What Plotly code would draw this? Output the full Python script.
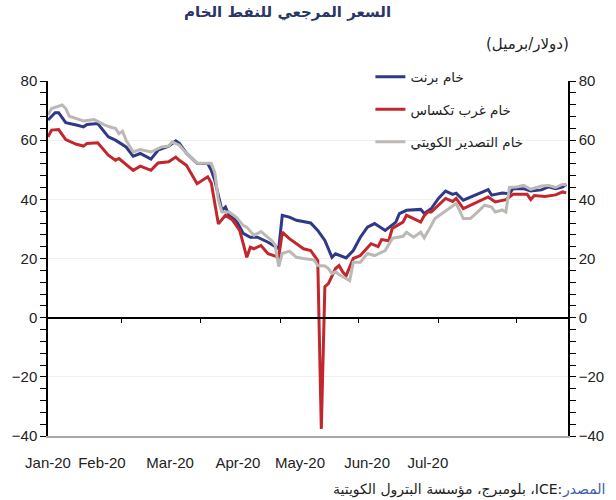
import plotly.graph_objects as go

# ---- data (trading-day index, USD/barrel) ----
brent_x = [0, 2, 3, 5, 8, 10, 11, 14, 17, 19, 22, 24, 26, 29, 31, 34, 36, 37, 39, 42, 45, 46, 47, 49, 50, 51,
           53, 55, 57, 59, 62, 65, 66, 68, 70, 74, 76, 78, 80, 81, 84, 86, 88, 90, 92, 94, 95, 98, 99, 101,
           105, 106, 108, 110, 112, 114, 115, 117, 119, 121, 124, 125, 128, 130, 131, 134, 136, 139, 141, 143, 145, 146]
brent_y = [66.8, 69.3, 69.3, 65.9, 65.1, 64.5, 65.3, 65.6, 61.1, 60.0, 57.7, 54.6, 55.5, 53.6, 56.6, 58.0, 59.8, 58.9,
           55.6, 52.2, 52.1, 49.8, 46.4, 36.3, 37.4, 34.6, 32.9, 28.5, 27.2, 27.2, 25.5, 23.3, 34.6, 34.0, 32.9, 32.0,
           29.5, 26.1, 20.4, 21.6, 20.2, 22.7, 27.2, 30.6, 31.8, 30.2, 29.5, 32.3, 35.2, 36.3, 36.6, 35.2, 36.9, 40.3,
           42.8, 41.7, 42.1, 39.7, 40.8, 41.9, 43.3, 41.4, 42.1, 41.9, 43.6, 43.6, 42.8, 43.2, 44.2, 43.6, 44.2, 45.1]

wti_x = [0, 1, 3, 5, 8, 10, 11, 14, 17, 19, 20, 24, 26, 29, 31, 34, 36, 37, 39, 42, 45, 46, 48, 50, 52, 54, 55,
         56, 57, 58, 60, 62, 65, 66, 68, 70, 72, 74, 76, 77, 78, 79, 81, 82, 83, 84, 86, 88, 90, 91, 93, 94, 96, 97,
         100, 101, 103, 105, 106, 107, 108, 110, 112, 114, 115, 117, 119, 121, 124, 126, 129, 131, 135, 136, 137,
         140, 143, 145, 146]
wti_y = [61.1, 63.4, 63.6, 60.2, 58.6, 58.0, 58.9, 59.1, 54.9, 53.2, 53.8, 49.8, 51.2, 49.8, 52.3, 52.7, 54.3, 53.2,
         51.5, 45.3, 47.6, 45.5, 31.7, 34.6, 33.0, 29.5, 25.0, 20.4, 23.8, 23.3, 24.4, 21.6, 20.4, 28.9, 26.7, 25.0,
         23.3, 22.7, 19.3, -37.6, 10.5, 11.5, 16.6, 17.6, 15.5, 14.2, 20.0, 21.0, 23.8, 25.0, 24.0, 26.4, 26.0, 30.2,
         32.3, 34.6, 33.5, 32.3, 34.5, 35.7, 35.7, 38.0, 40.3, 39.3, 40.3, 36.9, 38.0, 39.1, 40.8, 39.1, 39.9, 41.7,
         41.7, 39.9, 41.3, 41.0, 41.5, 42.5, 42.2]

kuwait_x = [0, 1, 4, 5, 6, 8, 10, 13, 16, 18, 19, 20, 21, 22, 24, 26, 29, 32, 34, 35, 37, 39, 42, 46, 47, 48, 49,
            51, 53, 55, 56, 58, 60, 63, 64, 65, 66, 68, 70, 72, 75, 76, 78, 79, 80, 81, 82, 85, 86, 88, 90, 92, 95,
            97, 100, 101, 103, 105, 106, 108, 109, 111, 113, 115, 117, 119, 121, 123, 125, 126, 128, 129, 130, 132,
            134, 136, 139, 141, 143, 145, 146]
kuwait_y = [68.5, 70.7, 71.9, 70.7, 68.1, 67.3, 66.5, 67.0, 65.1, 64.3, 64.0, 62.2, 63.0, 60.0, 56.0, 56.8, 56.0,
            57.7, 58.0, 59.4, 58.3, 55.6, 52.2, 52.2, 49.0, 39.7, 35.7, 35.7, 34.0, 31.2, 30.6, 27.8, 29.1, 26.1,
            24.5, 17.3, 21.7, 22.5, 20.4, 20.0, 19.5, 17.6, 17.5, 16.6, 14.9, 15.5, 14.6, 12.5, 18.7, 18.7, 21.7,
            21.0, 22.7, 26.8, 27.5, 28.9, 27.2, 28.9, 27.0, 31.2, 33.5, 35.2, 36.9, 38.6, 33.5, 33.5, 35.7, 38.0,
            37.4, 35.7, 36.4, 35.7, 44.0, 44.2, 44.7, 43.4, 44.5, 44.7, 44.0, 45.1, 44.8]

series_names = ["خام برنت", "خام غرب تكساس", "خام التصدير الكويتي"]
series_colors = ["#2e3a87", "#c1272d", "#bcb8b4"]

x_tick_vals = [0, 15.2, 34.4, 53.5, 71, 89.9, 107]
x_tick_text = ["Jan-20", "Feb-20", "Mar-20", "Apr-20", "May-20", "Jun-20", "Jul-20"]
zero_tick_vals = [20.8, 43.1, 65.4, 87.6, 109.9, 132.1]
x_range = [0, 146.5]
y_range = [-40, 80]

title_text = "السعر المرجعي للنفط الخام"
unit_text = "(دولار/برميل)"
source_label = "المصدر"
source_rest = ":ICE، بلومبرج، مؤسسة البترول الكويتية"

RLE, PDF = "\u202b", "\u202c"
AR_FONT = "DejaVu Sans"
NUM_FONT = "Liberation Sans"

fig = go.Figure()
for xs, ys, name, col in zip([brent_x, wti_x, kuwait_x], [brent_y, wti_y, kuwait_y], series_names, series_colors):
    fig.add_trace(go.Scatter(x=xs, y=ys, mode="lines", name=name, legendgroup=name,
                             line=dict(color=col, width=3), hoverinfo="skip"))

# helper traces to show the right axis and the zero-line axis
fig.add_trace(go.Scatter(x=[None], y=[None], yaxis="y2", showlegend=False, hoverinfo="skip"))
fig.add_trace(go.Scatter(x=[None], y=[None], xaxis="x2", showlegend=False, hoverinfo="skip"))

axis_font = dict(family=NUM_FONT, size=15, color="#222")

fig.update_layout(
    width=616, height=500,
    margin=dict(l=48, r=48, t=81, b=64),
    paper_bgcolor="white", plot_bgcolor="white",
    xaxis=dict(range=x_range, tickvals=x_tick_vals, ticktext=x_tick_text, showgrid=False, zeroline=False,
               showline=True, linecolor="#a8a8a8", linewidth=1.5, ticks="", tickfont=axis_font, ticklabelstandoff=12),
    xaxis2=dict(range=x_range, overlaying="x", anchor="free", position=1/3, showline=True, linecolor="black",
                linewidth=1.5, ticks="outside", ticklen=5, tickcolor="black", tickvals=zero_tick_vals,
                showticklabels=False, showgrid=False, zeroline=False),
    yaxis=dict(range=y_range, dtick=20, showgrid=True, gridcolor="#f0f0f0", zeroline=False,
               showline=True, linecolor="black", linewidth=1.5, ticks="outside", ticklen=6, tickcolor="black",
               tickfont=axis_font, minor=dict(dtick=4, ticks="outside", ticklen=6, tickcolor="black")),
    yaxis2=dict(range=y_range, dtick=20, overlaying="y", side="right", showgrid=False, zeroline=False,
                showline=True, linecolor="black", linewidth=1.5, ticks="outside", ticklen=6, tickcolor="black",
                tickfont=axis_font, minor=dict(dtick=4, ticks="outside", ticklen=6, tickcolor="black")),
    legend=dict(x=0.62, y=1.055, xanchor="left", yanchor="top", bgcolor="rgba(0,0,0,0)",
                font=dict(family=AR_FONT, size=13.5, color="#222"), tracegroupgap=12, itemwidth=30),
    showlegend=True,
)

fig.add_annotation(text="<b>" + title_text + "</b>", xref="paper", yref="paper", x=0.46, y=1.195,
                   xanchor="center", yanchor="middle", showarrow=False,
                   font=dict(family=AR_FONT, size=15, color="#2b3566"))
fig.add_annotation(text=unit_text, xref="paper", yref="paper", x=1.005, y=1.105,
                   xanchor="right", yanchor="middle", showarrow=False,
                   font=dict(family=AR_FONT, size=15, color="#222"))
# source line: blue label at the right end, remainder to its left (right-to-left reading)
fig.add_annotation(text=RLE + source_label + PDF, xref="paper", yref="paper", x=1.077, y=-0.152,
                   xanchor="right", yanchor="middle", showarrow=False,
                   font=dict(family=AR_FONT, size=14, color="#3a5ba9"))
fig.add_annotation(text=RLE + source_rest + PDF, xref="paper", yref="paper", x=0.993, y=-0.152,
                   xanchor="right", yanchor="middle", showarrow=False,
                   font=dict(family=AR_FONT, size=14, color="#222"))

fig.write_html("out.html")
